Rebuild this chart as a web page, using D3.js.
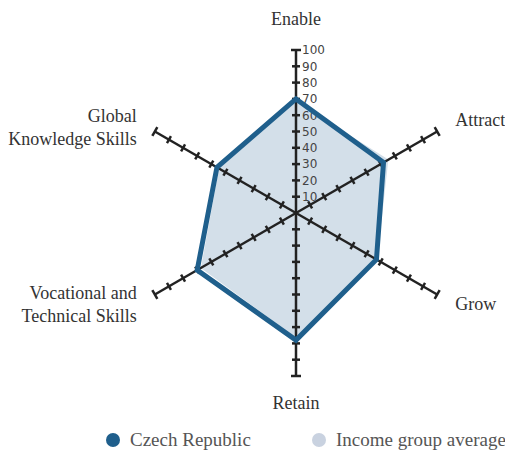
<!DOCTYPE html>
<html>
<head>
<meta charset="utf-8">
<script src="https://cdn.jsdelivr.net/npm/d3@7"></script>
<style>
  body { margin: 0; background: #fff; }
  svg { display: block; }
</style>
</head>
<body>
<div id="chart"></div>
<script>
// axis names, clockwise from the top
var axes = ["Enable", "Attract", "Grow", "Retain", "Vocational and\nTechnical Skills", "Global\nKnowledge Skills"];
var czech = [70, 62, 57, 78, 70, 56];
var incomeAvg = [69, 66, 58, 77, 68, 55];
var ticks = [10, 20, 30, 40, 50, 60, 70, 80, 90, 100];
var legendNames = ["Czech Republic", "Income group average"];

var config = {
  w: 505,
  h: 452,
  cx: 296,
  cy: 213,
  r: 163,
  labelR: 184
};

var svg = d3.select("#chart")
  .append("svg")
  .attr("width", config.w)
  .attr("height", config.h);

var rScale = d3.scaleLinear().domain([0, 100]).range([0, config.r]);
var angle = d3.scaleLinear().domain([0, axes.length]).range([0, 2 * Math.PI]);

var g = svg.append("g")
  .attr("transform", "translate(" + config.cx + "," + config.cy + ")");

var line = d3.lineRadial()
  .angle(function(d, i) { return angle(i); })
  .radius(function(d) { return rScale(d); })
  .curve(d3.curveLinearClosed);

// income group average: filled area
g.append("path")
  .datum(incomeAvg)
  .attr("d", line)
  .style("fill", "#d3dfe9")
  .style("stroke", "#fff")
  .style("stroke-width", 1.5);

// axes with small cross ticks
var axis = g.selectAll(".axis")
  .data(axes)
  .enter()
  .append("g")
  .attr("class", "axis")
  .attr("transform", function(d, i) { return "rotate(" + (angle(i) * 180 / Math.PI) + ")"; });

axis.append("line")
  .attr("x1", 0).attr("y1", 0)
  .attr("x2", 0).attr("y2", -rScale(100))
  .style("stroke", "#222")
  .style("stroke-width", 2.5);

axis.selectAll(".tick")
  .data(ticks)
  .enter()
  .append("line")
  .attr("x1", function(d) { return d == 100 ? -5 : -4; })
  .attr("x2", function(d) { return d == 100 ? 5 : 4; })
  .attr("y1", function(d) { return -rScale(d); })
  .attr("y2", function(d) { return -rScale(d); })
  .style("stroke", "#222")
  .style("stroke-width", 2.5);

// tick labels only on the first (top) axis
g.selectAll(".tickLabel")
  .data(ticks)
  .enter()
  .append("text")
  .attr("x", 6)
  .attr("y", function(d) { return -rScale(d); })
  .attr("dy", "0.36em")
  .text(function(d) { return d; })
  .style("font-family", "DejaVu Sans, sans-serif")
  .style("font-size", "12px")
  .style("fill", "#444");

// Czech Republic: thick outline
g.append("path")
  .datum(czech)
  .attr("d", line)
  .style("fill", "none")
  .style("stroke", "#1f5f8c")
  .style("stroke-width", 5)
  .style("stroke-linejoin", "miter");

// axis names
axes.forEach(function(name, i) {
  var a = angle(i);
  var x = Math.sin(a) * config.labelR;
  var y = -Math.cos(a) * config.labelR;
  var anchor = Math.abs(x) < 1 ? "middle" : (x > 0 ? "start" : "end");
  var lines = name.split("\n");
  var lh = 23;
  var y0;
  if (Math.abs(x) < 1) {
    y0 = y < 0 ? y - 4 : y + 12;
  } else {
    y0 = y + 5 - (lines.length - 1) * lh / 2;
    // upper multi-line names sit a bit lower
    if (y < 0 && lines.length > 1) y0 += 7;
  }
  var t = g.append("text")
    .attr("text-anchor", anchor)
    .style("font-family", "Liberation Serif, serif")
    .style("font-size", "18px")
    .style("fill", "#333");
  lines.forEach(function(l, j) {
    t.append("tspan")
      .attr("x", x)
      .attr("y", y0 + j * lh)
      .text(l);
  });
});

// legend
var legendX = [113, 319];
var legendColors = ["#1f5f8c", "#c9d2e0"];
var legend = svg.selectAll(".legend")
  .data(legendNames)
  .enter()
  .append("g")
  .attr("class", "legend")
  .attr("transform", function(d, i) { return "translate(" + legendX[i] + ",440)"; });

legend.append("circle")
  .attr("r", 7)
  .style("fill", function(d, i) { return legendColors[i]; });

legend.append("text")
  .attr("x", 17)
  .attr("y", 6)
  .text(function(d) { return d; })
  .style("font-family", "Liberation Serif, serif")
  .style("font-size", "19px")
  .style("fill", "#555");
</script>
</body>
</html>
